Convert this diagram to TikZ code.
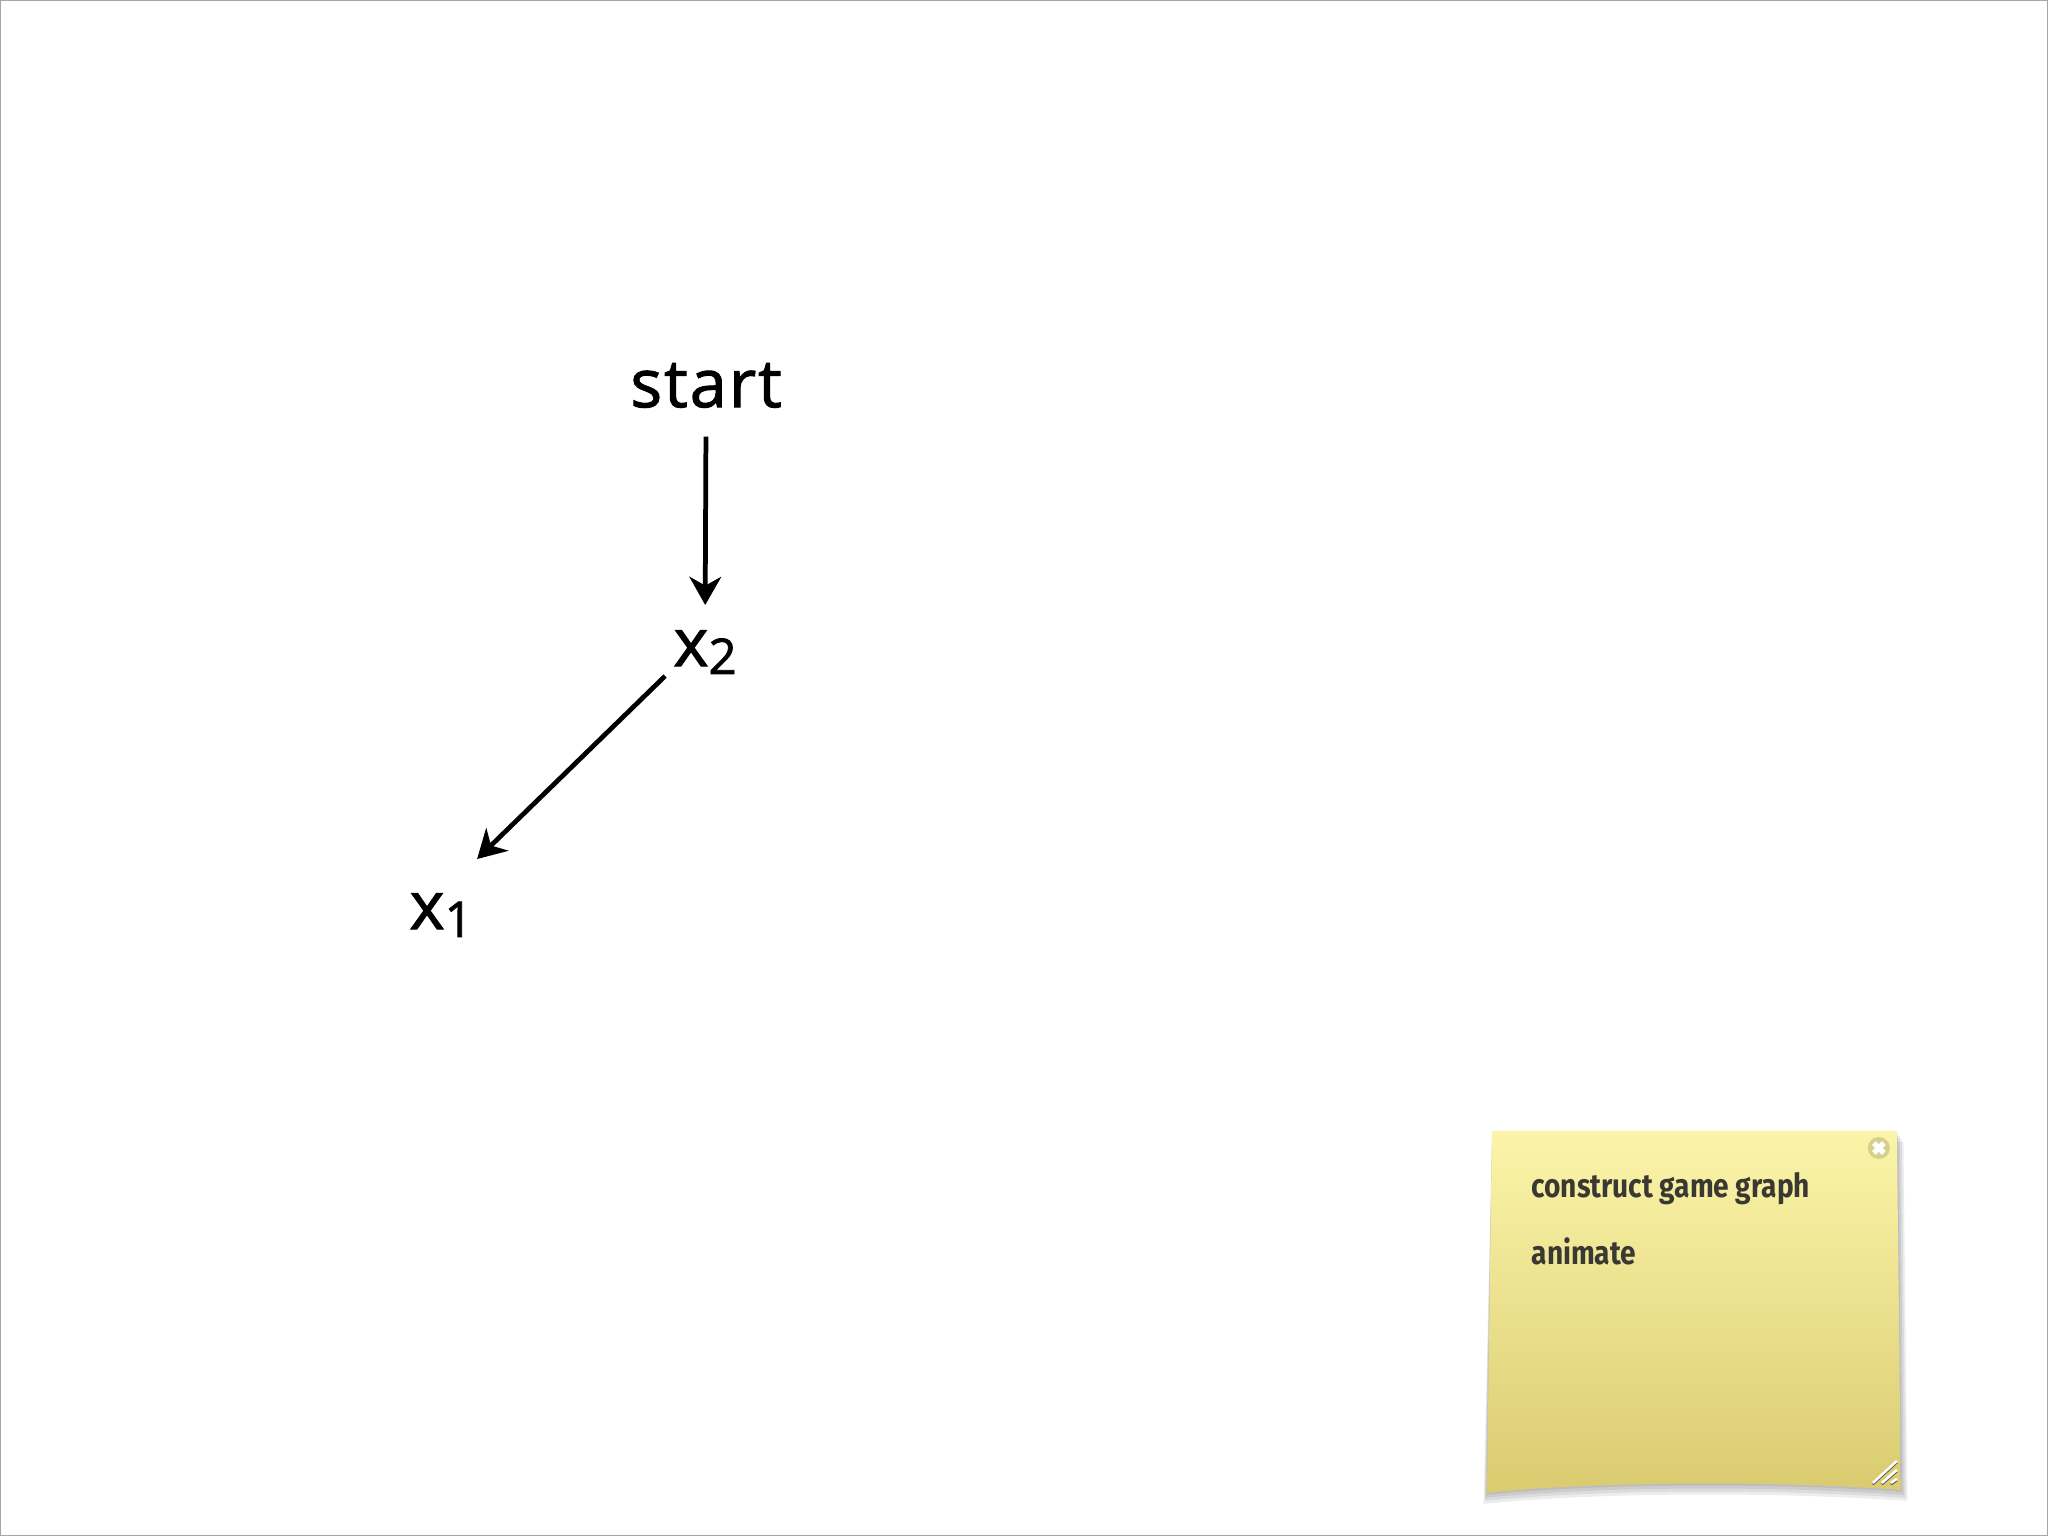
\documentclass[tikz,border=0pt]{standalone}
\usepackage{fontspec}
\setmainfont{Open Sans}
\newfontfamily\statefont{Open Sans}[FakeBold=1.5, LetterSpace=3]
\newfontfamily\notefont{Fira Sans}
\usetikzlibrary{positioning, arrows.meta, shadows}

\definecolor{notetop}{HTML}{FBF4A9}
\definecolor{notebot}{HTML}{DACB70}
\definecolor{noteink}{HTML}{3A3833}
\definecolor{notebtn}{HTML}{D6D08E}

\newcommand{\subidx}[1]{{\fontsize{14}{14}\selectfont\raisebox{-0.3ex}{#1}}}

\begin{document}
\begin{tikzpicture}[x=0.01cm, y=-0.01cm,
    state/.style={inner sep=0pt, font=\statefont\fontsize{19}{22}\selectfont},
    arr/.style={-{Stealth[length=8pt, width=9pt, inset=2.5pt]}, line width=1.35pt},
    memo/.style={anchor=base west, inner sep=0pt, text=noteink,
      font=\notefont\bfseries\fontsize{9.4}{11}\selectfont}]
  % page
  \fill[white] (0,0) rectangle (2048,1536);
  \draw[gray!70, line width=0.4pt] (0.5,0.5) rectangle (2047.5,1535.5);

  % game graph
  \node [state, anchor=base] (start) at (706,407) {start};
  \node [state, anchor=base] (x2) at (705,666) {x\subidx{2}};
  \node [state, anchor=base] (x1) at (441,929) {x\subidx{1}};
  \draw [arr, shorten <=8pt, shorten >=7pt] (start.south) -- (x2.north);
  \draw [arr] ([shift={(-40,10)}]x2.base) -- ([shift={(36,-70)}]x1.base);

  % sticky note
  \foreach \s in {2,5,8,11}
    \fill [black, opacity=0.07]
      (1492,1131+\s) -- (1897+0.6*\s,1131+\s) -- (1901+0.6*\s,1490+\s)
      .. controls (1780,1481+\s) and (1600,1481+\s) .. (1487-0.3*\s,1493+\s) -- cycle;
  \shade [top color=notetop, bottom color=notebot]
    (1492,1131) -- (1897,1131) -- (1901,1490)
    .. controls (1780,1481) and (1600,1481) .. (1487,1493) -- cycle;
  \node [circle, fill=notebtn, minimum size=22*0.01cm, inner sep=0pt] (close) at (1879,1148) {};
  \draw [white, line width=1.5pt] ([shift={(-5,-5)}]close.center) -- ([shift={(5,5)}]close.center)
    ([shift={(-5,5)}]close.center) -- ([shift={(5,-5)}]close.center);
  % resize grip
  \coordinate (grip) at (1897,1483);
  \foreach \d in {0,9,18} {
    \draw [gray!70!black, line width=0.6pt] ([shift={(-24+\d,1.5)}]grip) -- ([shift={(0,-22+\d+1.5)}]grip);
    \draw [white, line width=0.7pt] ([shift={(-24+\d,0)}]grip) -- ([shift={(0,-22+\d)}]grip);
  }
  \node [memo] (todo1) at (1531,1198) {\scalebox{0.85}[1]{construct game graph}};
  \node [memo] (todo2) at (1531,1265) {\scalebox{0.85}[1]{animate}};
\end{tikzpicture}
\end{document}
